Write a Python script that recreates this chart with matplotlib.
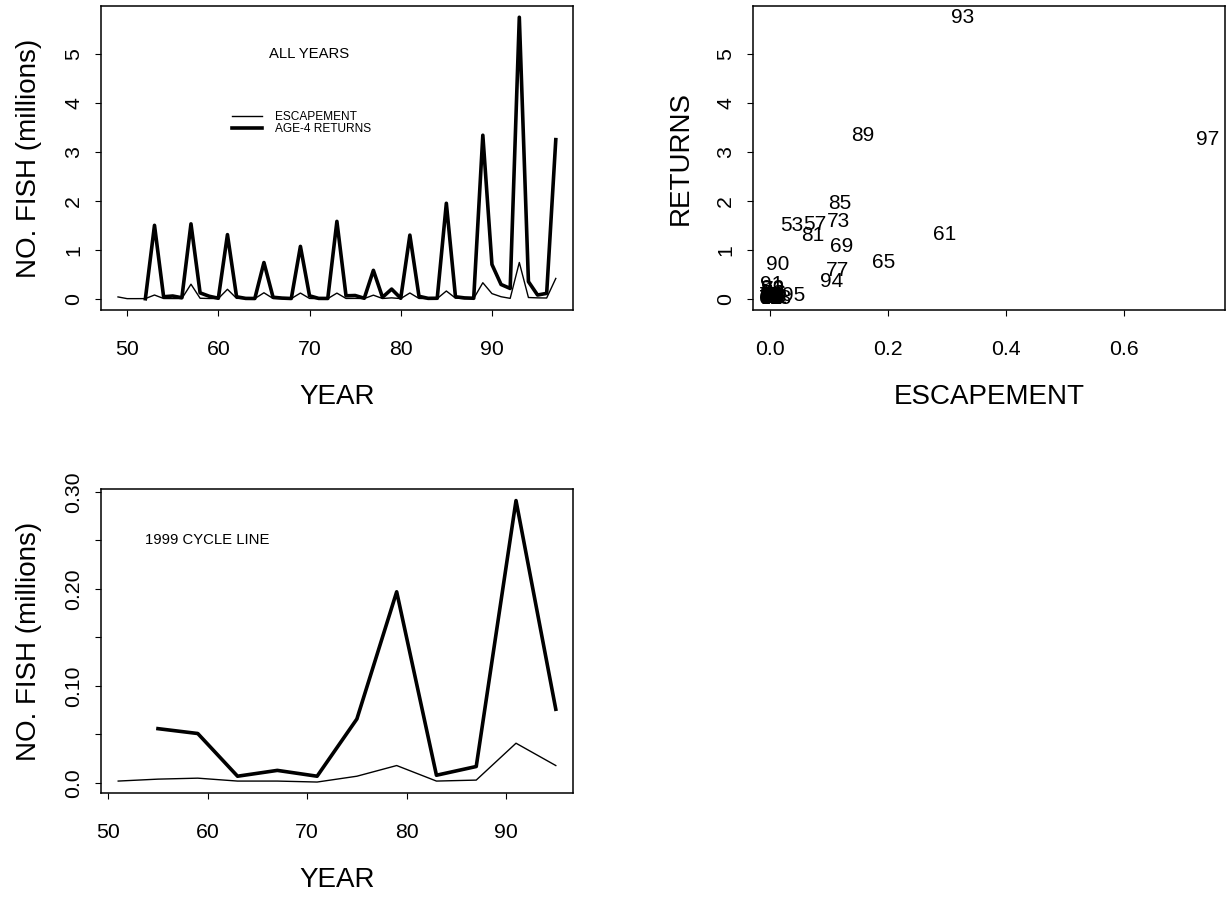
import numpy as np
import matplotlib
matplotlib.use('Agg')
import matplotlib.pyplot as plt
from matplotlib.lines import Line2D

plt.rcParams['font.family'] = ['Liberation Sans', 'DejaVu Sans']

# escapement by year (millions)
esc_years = list(range(49, 98))
escapement = [0.037, 0.002, 0.002, 0.003, 0.076, 0.005, 0.004, 0.004,
              0.297, 0.010, 0.005, 0.004, 0.193, 0.008, 0.002, 0.003,
              0.122, 0.005, 0.002, 0.003, 0.116, 0.006, 0.001, 0.002,
              0.115, 0.006, 0.007, 0.004, 0.073, 0.005, 0.018, 0.003,
              0.118, 0.006, 0.002, 0.004, 0.158, 0.013, 0.003, 0.005,
              0.327, 0.105, 0.041, 0.008, 0.741, 0.025, 0.018, 0.015,
              0.415]

# age-4 returns by year (millions)
ret_years = list(range(52, 98))
returns = [0.000, 1.50, 0.040, 0.056, 0.020, 1.53, 0.120, 0.051,
           0.010, 1.31, 0.040, 0.007, 0.005, 0.74, 0.030, 0.013,
           0.005, 1.07, 0.060, 0.007, 0.006, 1.58, 0.060, 0.066,
           0.010, 0.58, 0.030, 0.197, 0.010, 1.30, 0.050, 0.008,
           0.010, 1.95, 0.040, 0.017, 0.010, 3.34, 0.70, 0.291,
           0.21, 5.75, 0.35, 0.076, 0.11, 3.25]

W, H = 1227, 898
fig = plt.figure(figsize=(W / 100, H / 100), dpi=100)


def px(l, t, r, b):
    return [l / W, 1 - b / H, (r - l) / W, (b - t) / H]


def style(ax):
    for s in ax.spines.values():
        s.set_linewidth(1.1)
    ax.tick_params(direction='out', length=4.5, width=0.8, labelsize=15.3)
    ax.tick_params(axis='x', pad=17)
    ax.tick_params(axis='y', pad=8)
    ax.margins(0.04)


def ylabels(ax, ticks, labels):
    ax.set_yticks(ticks)
    ax.set_yticklabels(labels, rotation=90, va='center')


# ---- top left: all years
ax1 = fig.add_axes(px(100.5, 6, 573.3, 310))
ax1.plot(esc_years, escapement, color='black', lw=1.0)
ax1.plot(ret_years, returns, color='black', lw=2.6)
style(ax1)
ax1.set_xticks([50, 60, 70, 80, 90])
ylabels(ax1, [0, 1, 2, 3, 4, 5], ['0', '1', '2', '3', '4', '5'])
ax1.set_xlabel('YEAR', fontsize=20, labelpad=18)
ax1.set_ylabel('NO. FISH (millions)', fontsize=20, labelpad=16)
ax1.text(70, 5, 'ALL YEARS', ha='center', va='center', fontsize=10.7)
handles = [Line2D([], [], color='black', lw=1.0),
           Line2D([], [], color='black', lw=2.6)]
ax1.legend(handles, ['ESCAPEMENT', 'AGE-4 RETURNS'], loc='upper left',
           bbox_to_anchor=(0.279, 0.655), frameon=False, fontsize=8.6,
           handlelength=2.5, handletextpad=1.1, labelspacing=0.0,
           borderpad=0, borderaxespad=0)

# ---- top right: returns vs escapement 4 years earlier
ax2 = fig.add_axes(px(752.7, 6, 1225, 310))
sx, sy, lab = [], [], []
for t, r in zip(ret_years, returns):
    if t - 4 in esc_years:
        sx.append(escapement[esc_years.index(t - 4)])
        sy.append(r)
        lab.append(str(t))
ax2.plot(sx, sy, linestyle='none')
for x, y, s in zip(sx, sy, lab):
    ax2.text(x, y, s, ha='center', va='center', fontsize=15)
style(ax2)
ax2.set_xticks([0.0, 0.2, 0.4, 0.6])
ax2.set_xticklabels(['0.0', '0.2', '0.4', '0.6'])
ylabels(ax2, [0, 1, 2, 3, 4, 5], ['0', '1', '2', '3', '4', '5'])
ax2.set_xlabel('ESCAPEMENT', fontsize=20, labelpad=18)
ax2.set_ylabel('RETURNS', fontsize=20, labelpad=16)

# ---- bottom left: 1999 cycle line
cyc_esc_years = [y for y in esc_years if y % 4 == 3]
cyc_esc = [escapement[esc_years.index(y)] for y in cyc_esc_years]
cyc_ret_years = [y for y in ret_years if y % 4 == 3]
cyc_ret = [returns[ret_years.index(y)] for y in cyc_ret_years]

ax3 = fig.add_axes(px(100.7, 489.3, 573.3, 793.3))
ax3.plot(cyc_esc_years, cyc_esc, color='black', lw=1.0)
ax3.plot(cyc_ret_years, cyc_ret, color='black', lw=2.6)
style(ax3)
ax3.set_xticks([50, 60, 70, 80, 90])
ylabels(ax3, [0.0, 0.05, 0.10, 0.15, 0.20, 0.25, 0.30],
        ['0.0', '', '0.10', '', '0.20', '', '0.30'])
ax3.set_xlabel('YEAR', fontsize=20, labelpad=18)
ax3.set_ylabel('NO. FISH (millions)', fontsize=20, labelpad=16)
ax3.text(60, 0.25, '1999 CYCLE LINE', ha='center', va='center', fontsize=10.7)

fig.savefig('out.png', dpi=100)
